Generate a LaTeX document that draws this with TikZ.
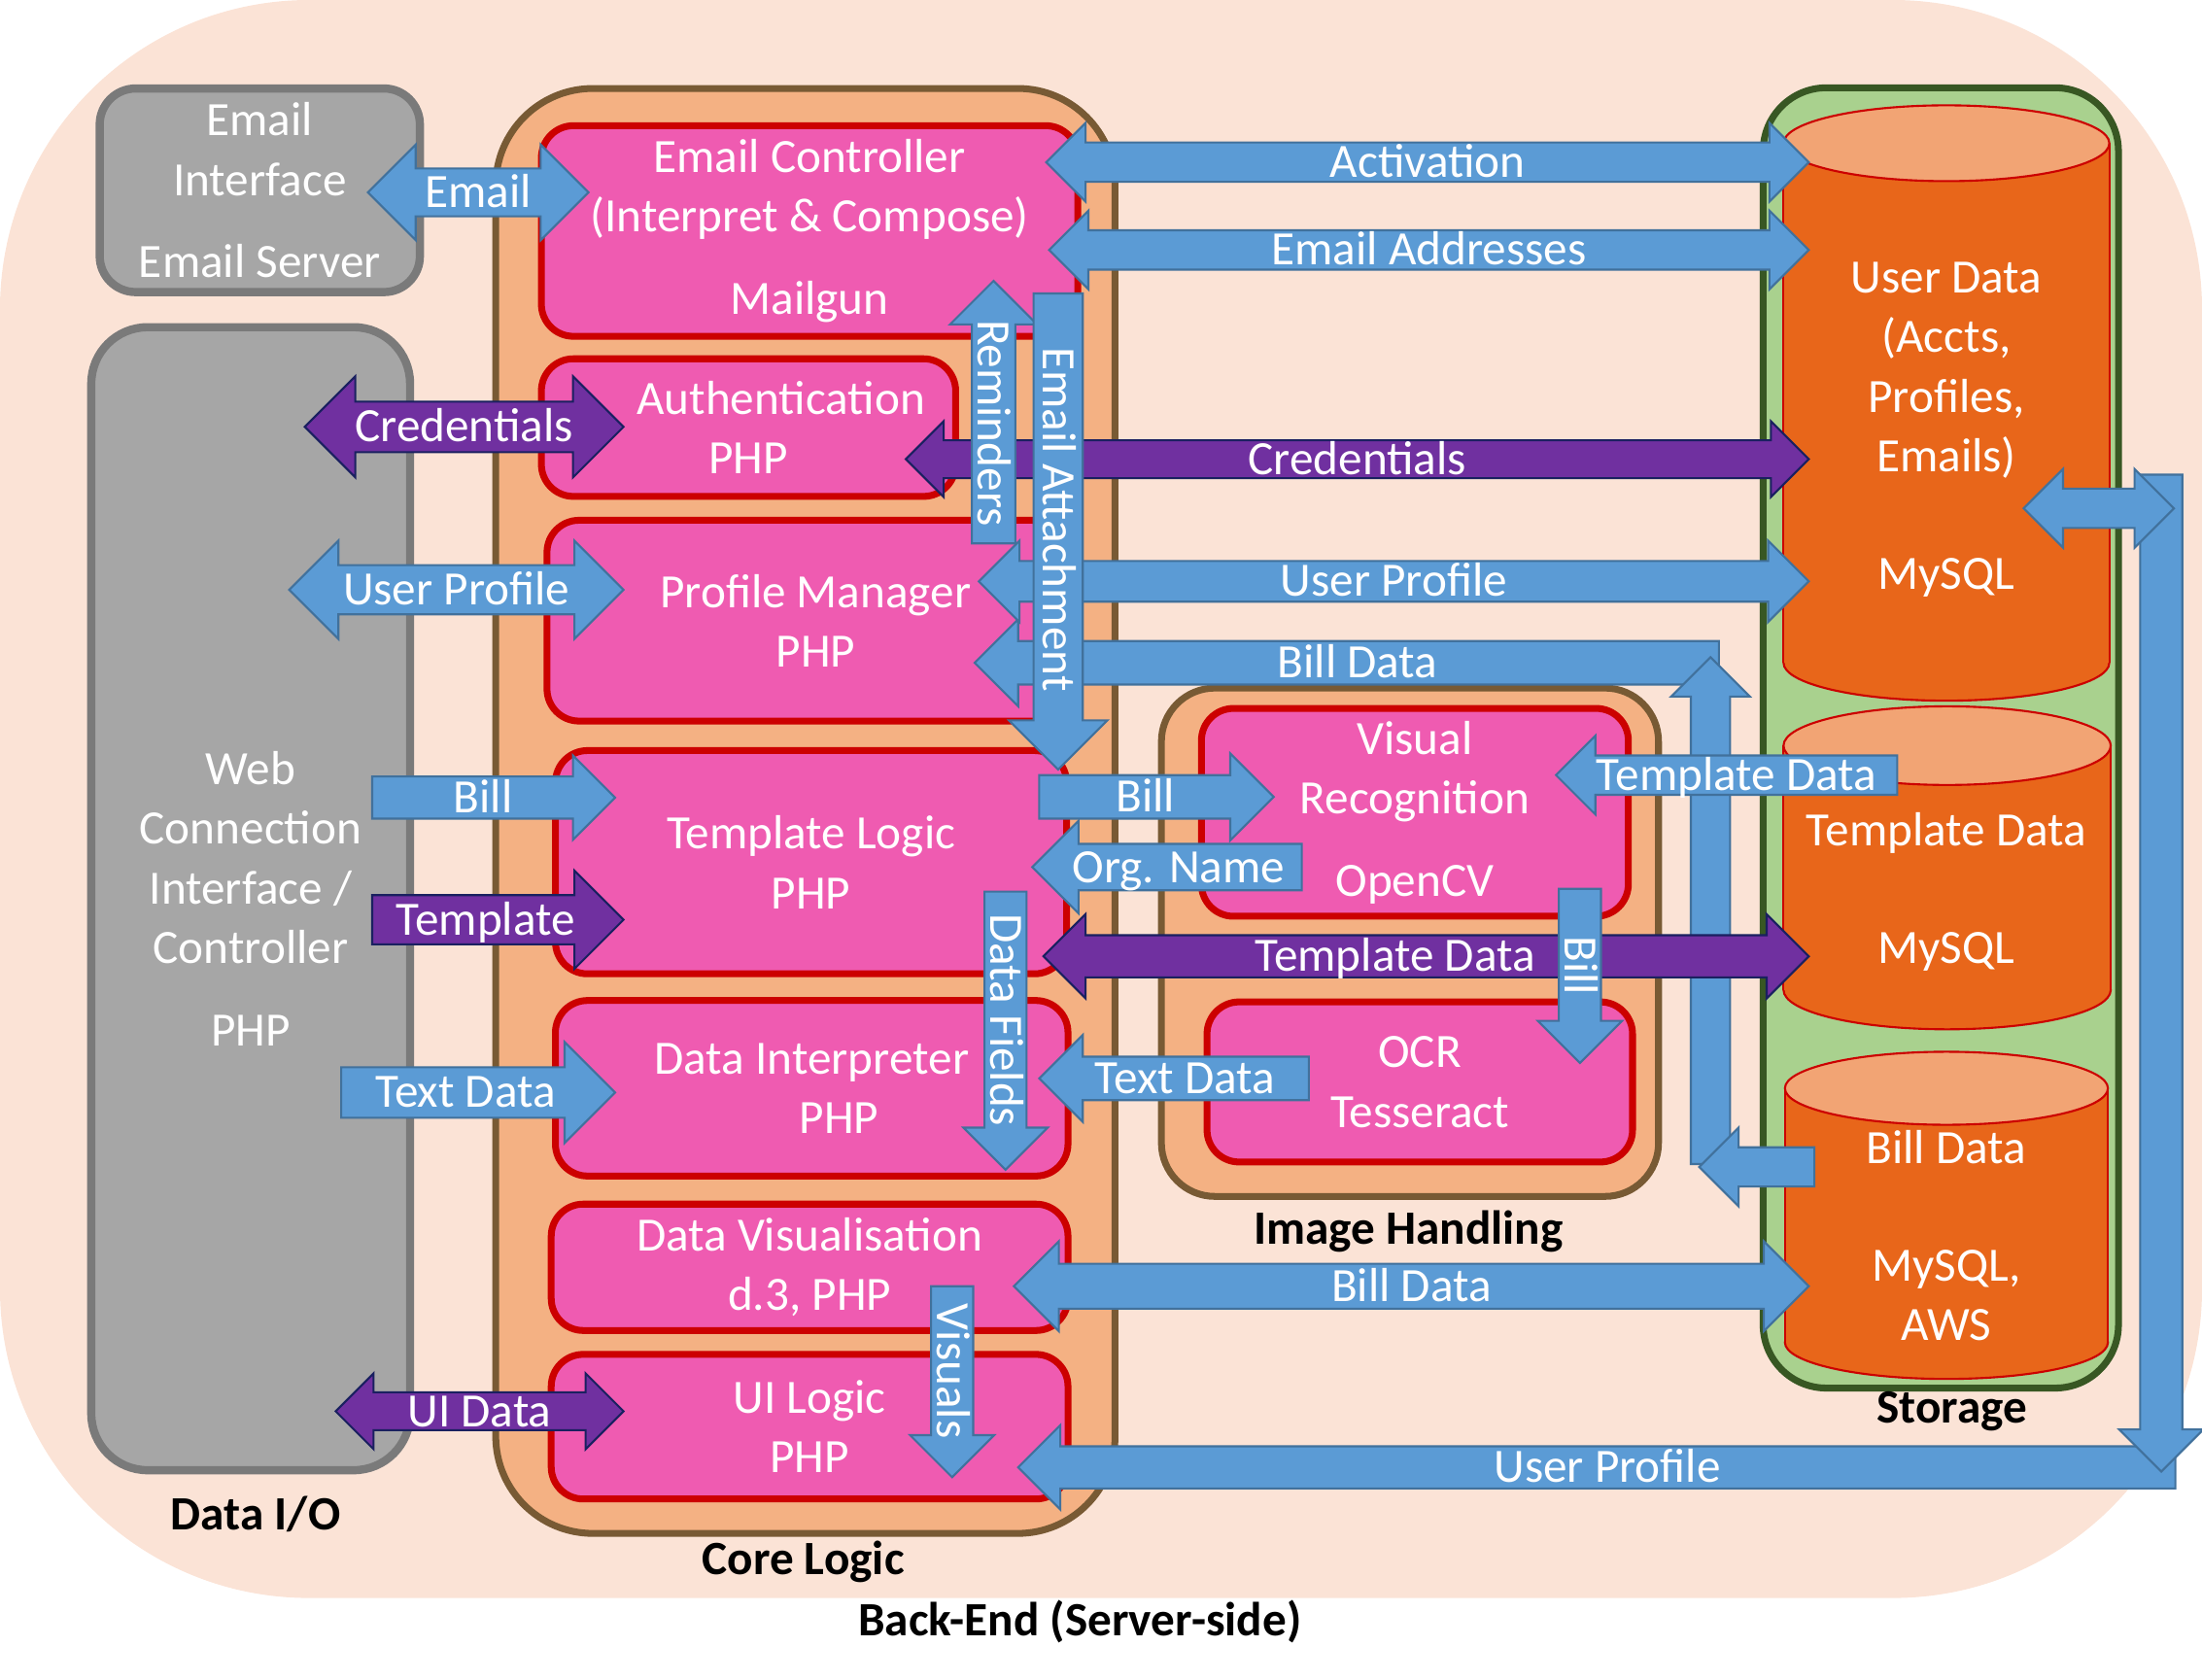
\documentclass[tikz,border=0pt]{standalone}
\usepackage{fontspec}
\setmainfont{Carlito}

\definecolor{bgpeach}{HTML}{FBE3D6}
\definecolor{corefill}{HTML}{F4B183}
\definecolor{coreline}{HTML}{785A34}
\definecolor{pinkfill}{HTML}{EF5BB1}
\definecolor{pinkline}{HTML}{CC0000}
\definecolor{iofill}{HTML}{A6A6A6}
\definecolor{ioline}{HTML}{7A7A7A}
\definecolor{storefill}{HTML}{A9D18E}
\definecolor{storeline}{HTML}{385723}
\definecolor{cylfill}{HTML}{E8661A}
\definecolor{cyltopfill}{HTML}{F2A474}
\definecolor{cylline}{HTML}{CC0000}
\definecolor{arrowblue}{HTML}{5B9BD5}
\definecolor{blueline}{HTML}{41719C}
\definecolor{arrowpurple}{HTML}{7030A0}
\definecolor{purpleline}{HTML}{1A2060}

% one pixel of the layout grid
\newcommand{\px}{0.1445mm}

% horizontal block arrow: [text opts]{style}{name}{r/l/b}{x left}{x right}{y}{half shaft}{text}
\newcommand{\harrow}[9][]{%
  \pgfmathsetmacro\hxA{#5}%
  \pgfmathsetmacro\hxB{#6}%
  \pgfmathsetmacro\hyC{#7}%
  \pgfmathsetmacro\hyA{#7-#8}%
  \pgfmathsetmacro\hyB{#7+#8}%
  \pgfmathsetmacro\hyHA{#7-2*#8}%
  \pgfmathsetmacro\hyHB{#7+2*#8}%
  \pgfmathsetmacro\hxHA{#5+2*#8}%
  \pgfmathsetmacro\hxHB{#6-2*#8}%
  \if r#4%
    \draw[#2] (\hxA,\hyA) -- (\hxHB,\hyA) -- (\hxHB,\hyHA) -- (\hxB,\hyC) -- (\hxHB,\hyHB) -- (\hxHB,\hyB) -- (\hxA,\hyB) -- cycle;%
    \pgfmathsetmacro\hxT{(#5+#6-#8)/2}%
  \fi
  \if l#4%
    \draw[#2] (\hxB,\hyA) -- (\hxHA,\hyA) -- (\hxHA,\hyHA) -- (\hxA,\hyC) -- (\hxHA,\hyHB) -- (\hxHA,\hyB) -- (\hxB,\hyB) -- cycle;%
    \pgfmathsetmacro\hxT{(#5+#6+#8)/2}%
  \fi
  \if b#4%
    \draw[#2] (\hxA,\hyC) -- (\hxHA,\hyHA) -- (\hxHA,\hyA) -- (\hxHB,\hyA) -- (\hxHB,\hyHA) -- (\hxB,\hyC) -- (\hxHB,\hyHB) -- (\hxHB,\hyB) -- (\hxHA,\hyB) -- (\hxHA,\hyHB) -- cycle;%
    \pgfmathsetmacro\hxT{(#5+#6)/2}%
  \fi
  \node[arrowtext,#1] (#3) at (\hxT,\hyC) {#9};%
}

% vertical block arrow: [text opts]{style}{name}{u/d}{x}{y top}{y bottom}{half shaft}{text}
\newcommand{\varrow}[9][]{%
  \pgfmathsetmacro\vxC{#5}%
  \pgfmathsetmacro\vxA{#5-#8}%
  \pgfmathsetmacro\vxB{#5+#8}%
  \pgfmathsetmacro\vxHA{#5-2*#8}%
  \pgfmathsetmacro\vxHB{#5+2*#8}%
  \pgfmathsetmacro\vyA{#6}%
  \pgfmathsetmacro\vyB{#7}%
  \pgfmathsetmacro\vyHA{#6+2*#8}%
  \pgfmathsetmacro\vyHB{#7-2*#8}%
  \if d#4%
    \draw[#2] (\vxA,\vyA) -- (\vxA,\vyHB) -- (\vxHA,\vyHB) -- (\vxC,\vyB) -- (\vxHB,\vyHB) -- (\vxB,\vyHB) -- (\vxB,\vyA) -- cycle;%
    \pgfmathsetmacro\vyT{(#6+#7-#8)/2}%
  \fi
  \if u#4%
    \draw[#2] (\vxA,\vyB) -- (\vxA,\vyHA) -- (\vxHA,\vyHA) -- (\vxC,\vyA) -- (\vxHB,\vyHA) -- (\vxB,\vyHA) -- (\vxB,\vyB) -- cycle;%
    \pgfmathsetmacro\vyT{(#6+#7+#8)/2}%
  \fi
  \node[arrowtext,rotate=-90,#1] (#3) at (\vxC,\vyT) {#9};%
}

% database cylinder: {x left}{x right}{y top}{y bottom}{half height of the ends}
\newcommand{\dbcyl}[5]{%
  \filldraw[dbside] ({(#1+#2)/2},#4) ellipse [x radius={(#2-#1)/2}, y radius=#5];
  \fill[dbbody] (#1,#3) rectangle (#2,#4);
  \draw[dbedge] (#1,#3) -- (#1,#4) (#2,#3) -- (#2,#4);
  \filldraw[dbtop] ({(#1+#2)/2},#3) ellipse [x radius={(#2-#1)/2}, y radius=#5];
}

\begin{document}
\begin{tikzpicture}[
    x=0.1445mm, y=-0.1445mm,
    font=\fontsize{14}{17.5}\selectfont,
    iobox/.style={draw=ioline, fill=iofill, line width=2.4pt, text=white, align=center, inner sep=2pt},
    groupbox/.style={draw=coreline, fill=corefill, line width=2pt},
    storebox/.style={draw=storeline, fill=storefill, line width=2pt, rounded corners=6.5mm},
    logicbox/.style={draw=pinkline, fill=pinkfill, line width=2pt, rounded corners=3.3mm, text=white, align=center, inner sep=2pt},
    dbtext/.style={text=white, align=center},
    grouplabel/.style={font=\bfseries\fontsize{14}{17}\selectfont},
    bluearrow/.style={fill=arrowblue, draw=blueline, line width=0.6pt},
    purplearrow/.style={fill=arrowpurple, draw=purpleline, line width=0.6pt},
    arrowtext/.style={text=white, inner sep=0pt, text height=8.9pt, text depth=0pt},
    dbbody/.style={fill=cylfill},
    dbedge/.style={draw=cylline, line width=0.6pt},
    dbside/.style={dbbody, dbedge},
    dbtop/.style={fill=cyltopfill, dbedge}
  ]

  % Back-end area
  \useasboundingbox (0,0) rectangle (1568,1196);
  \fill[bgpeach, rounded corners=31.8mm] (0,0) rectangle (1568,1138);
  \node[grouplabel] (backend) at (769,1155) {Back-End (Server-side)};

  % Data I/O
  \node[iobox, rounded corners=3.7mm, minimum width=228*\px, minimum height=145*\px] (mailif) at (185,135.5) {Email\\Interface\\[6.6pt]Email Server};
  \node[iobox, rounded corners=5.8mm, minimum width=227*\px, minimum height=814*\px] (webif) at (178.5,640) {Web\\Connection\\Interface /\\Controller\\[6.6pt]PHP};
  \node[grouplabel] (iolabel) at (182,1078) {Data I/O};

  % Core Logic
  \node[groupbox, rounded corners=10mm, minimum width=441*\px, minimum height=1029*\px] (core) at (573.5,577.5) {};
  \node[grouplabel] (corelabel) at (572,1112) {Core Logic};
  \node[logicbox, minimum width=382*\px, minimum height=150*\px] (mailctl) at (576.5,164.5) {Email Controller\\(Interpret \& Compose)\\[6.6pt]Mailgun};
  \node[logicbox, minimum width=295*\px, minimum height=98*\px] (auth) at (533,304.5) {\hspace*{19pt}Authentication\\PHP};
  \node[logicbox, minimum width=368*\px, minimum height=143*\px] (profile) at (573.5,442) {\hspace*{6pt}Profile Manager\\\hspace*{6pt}PHP};
  \node[logicbox, minimum width=364*\px, minimum height=159*\px] (tmpl) at (577.5,614) {Template Logic\\PHP};
  \node[logicbox, minimum width=365*\px, minimum height=125*\px] (interp) at (578,775) {Data Interpreter\\\hspace*{16pt}PHP};
  \node[logicbox, minimum width=368*\px, minimum height=90*\px] (dataviz) at (576.5,902.5) {Data Visualisation\\d.3, PHP};
  \node[logicbox, minimum width=368*\px, minimum height=103*\px] (uilogic) at (576.5,1016) {UI Logic\\PHP};

  % Image Handling
  \node[groupbox, rounded corners=5.5mm, minimum width=354*\px, minimum height=362*\px] (imaging) at (1004,671) {};
  \node[grouplabel] (imglabel) at (1003,877) {Image Handling};
  \node[logicbox, minimum width=304*\px, minimum height=148*\px] (visrec) at (1007.5,578.5) {Visual\\Recognition\\[6.6pt]OpenCV};
  \node[logicbox, minimum width=303*\px, minimum height=114*\px] (ocr) at (1011,770.5) {OCR\\Tesseract};

  % Storage
  \node[storebox, minimum width=253*\px, minimum height=926*\px] (storage) at (1382,525.5) {};
  \node[grouplabel] (storelabel) at (1390,1005) {Storage};
  \dbcyl{1270}{1502}{102}{472}{27}
  \node[dbtext] (userdb) at (1386,306) {User Data\\(Accts,\\Profiles,\\Emails)\\[16.9pt]MySQL};
  \dbcyl{1270}{1503}{531}{705}{28}
  \node[dbtext] (tmpldb) at (1386,635) {Template Data\\[16.9pt]MySQL};
  \dbcyl{1271}{1501}{775}{956}{26}
  \node[dbtext] (billdb) at (1386,880) {Bill Data\\[16.9pt]MySQL,\\AWS};

  % Bill data back to the profile manager
  \harrow{bluearrow}{billtop}{l}{694}{1224}{472}{15.5}{Bill Data}
  \varrow{bluearrow}{billup}{u}{1218}{468}{829}{14}{}
  \harrow{bluearrow}{billout}{l}{1210}{1292}{831}{14}{}

  % Horizontal flows
  \harrow{bluearrow}{tmplvr}{l}{1108}{1351}{552}{14}{Template Data}
  \harrow[xshift=-3.2mm]{purplearrow}{tmplpair}{b}{743}{1288}{681}{15}{Template Data}
  \harrow{bluearrow}{email}{b}{262}{419}{137}{17}{Email}
  \harrow{bluearrow}{activation}{b}{745}{1288}{115.5}{14}{Activation}
  \harrow{bluearrow}{addresses}{b}{747}{1288}{178}{14}{Email Addresses}
  \harrow{purplearrow}{credin}{b}{217}{444}{304}{18}{Credentials}
  \harrow{purplearrow}{creddb}{b}{645}{1288}{327}{13.5}{Credentials}
  \harrow{bluearrow}{profin}{b}{206}{444}{420}{17.5}{User Profile}
  \harrow{bluearrow}{profdb}{b}{697}{1288}{414}{14.5}{User Profile}
  \harrow{bluearrow}{billin}{r}{265}{438}{568}{15}{Bill}
  \harrow{purplearrow}{tmplin}{r}{265}{444}{655}{17.5}{Template}
  \harrow{bluearrow}{textin}{r}{243}{438}{778}{18}{Text Data}
  \harrow{purplearrow}{uidata}{b}{239}{444}{1005}{13.5}{UI Data}
  \harrow{bluearrow}{billvr}{r}{740}{907}{567.5}{15.5}{Bill}
  \harrow{bluearrow}{orgname}{l}{735}{927}{617.5}{16.5}{Org. Name}
  \harrow{bluearrow}{textocr}{l}{740}{932}{768}{15.5}{Text Data}
  \harrow{bluearrow}{billviz}{b}{722}{1288}{916}{16}{Bill Data}

  % Vertical flows
  \varrow{bluearrow}{reminders}{u}{707.5}{200}{387}{15.5}{Reminders}
  \varrow{bluearrow}{attach}{d}{753.5}{209}{548}{17.5}{Email Attachment}
  \varrow{bluearrow}{billocr}{d}{1125}{633}{757}{15}{Bill}
  \varrow{bluearrow}{fields}{d}{716}{635}{833}{15}{Data Fields}
  \varrow{bluearrow}{visuals}{d}{678}{916}{1052}{15}{Visuals}

  % User profile loop round the right side
  \harrow{bluearrow}{profback}{l}{725}{1549}{1045}{15}{User Profile}
  \varrow{bluearrow}{profdown}{d}{1539}{338}{1048}{15}{}
  \harrow{bluearrow}{profout}{b}{1441}{1548}{362}{14}{}

\end{tikzpicture}
\end{document}
